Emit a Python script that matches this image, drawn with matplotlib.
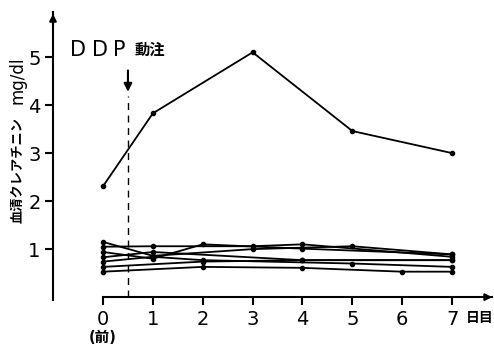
import numpy as np
import matplotlib
matplotlib.use("Agg")
import matplotlib.pyplot as plt

plt.rcParams['font.family'] = ['DejaVu Sans', 'Noto Sans CJK JP']

# days after treatment (0 = before)
days = [0, 1, 2, 3, 4, 5, 6, 7]
nan = np.nan

# serum creatinine, mg/dl
high_case = [2.31, 3.83, nan, 5.10, nan, 3.46, nan, 3.00]
low_cases = [
    [1.15, 0.86, nan, 1.00, nan, 1.06, nan, 0.89],
    [1.05, 1.06, nan, 1.06, 1.10, nan, nan, 0.84],
    [0.94, 0.80, 1.10, nan, 1.01, nan, nan, 0.89],
    [0.83, 0.94, nan, nan, 0.77, nan, nan, 0.77],
    [0.74, 0.84, 0.77, nan, nan, 0.70, nan, 0.63],
    [0.63, nan, 0.74, nan, 0.77, nan, nan, 0.77],
    [0.53, nan, 0.63, nan, 0.61, nan, 0.53, 0.53],
]
yticks = [1, 2, 3, 4, 5]
dose_day = 0.5


def draw(ax, vals):
    x = np.array(days, dtype=float)
    y = np.array(vals, dtype=float)
    m = ~np.isnan(y)
    ax.plot(x[m], y[m], color='black', lw=1.3, marker='o', ms=3,
            clip_on=False, zorder=3)


fig = plt.figure(figsize=(4.94, 3.46), dpi=100)
ax = fig.add_axes([53 / 494, 46 / 346, 441 / 494, 288 / 346])
ax.set_xlim(-1.003, 7.84)
ax.set_ylim(-0.06, 5.94)

draw(ax, high_case)
for vals in low_cases:
    draw(ax, vals)

# dashed line marking the infusion
ax.plot([dose_day, dose_day], [0, 4.2], color='black', lw=1, ls=(0, (5, 4)))
ax.annotate('', xy=(dose_day, 4.22), xytext=(dose_day, 4.78),
            arrowprops=dict(arrowstyle='-|>', color='black', lw=1.5,
                            mutation_scale=12))
for i, ch in enumerate('DDP'):
    ax.text(-0.66 + i * 0.43, 5.14, ch, fontsize=15, ha='left', va='center')
ax.text(0.64, 5.14, '動注', fontsize=11, fontweight='bold',
        ha='left', va='center')

# axes drawn by hand
for s in ['top', 'right']:
    ax.spines[s].set_visible(False)
ax.spines['left'].set_linewidth(1.5)
ax.spines['bottom'].set_linewidth(1.5)
ax.spines['bottom'].set_position(('data', 0))
ax.spines['bottom'].set_bounds(0, 7.8)
ax.annotate('', xy=(7.86, 0), xytext=(7.6, 0),
            arrowprops=dict(arrowstyle='-|>', color='black', lw=1.5,
                            mutation_scale=10), annotation_clip=False)
ax.annotate('', xy=(-1.003, 5.96), xytext=(-1.003, 5.6),
            arrowprops=dict(arrowstyle='-|>', color='black', lw=1.5,
                            mutation_scale=10), annotation_clip=False)

ax.set_yticks(yticks)
ax.set_yticklabels([str(v) for v in yticks])
ax.set_xticks(days)
ax.set_xticklabels([str(d) for d in days])
ax.tick_params(axis='both', direction='out', length=6, width=1.5,
               labelsize=14, pad=3)

ax.text(7.27, -0.43, '日目', fontsize=10, fontweight='bold',
        ha='left', va='center')
ax.text(0, -0.84, '(前)', fontsize=10.5, fontweight='bold',
        ha='center', va='center')

fig.text(18 / 494, 1 - 80 / 346, 'mg/dl', rotation=90, fontsize=12,
         ha='center', va='center')
fig.text(18 / 494, 1 - 170 / 346, '血清クレアチニン', rotation=90,
         fontsize=9.5, fontweight='bold', ha='center', va='center')

fig.savefig('out.png', dpi=100)
